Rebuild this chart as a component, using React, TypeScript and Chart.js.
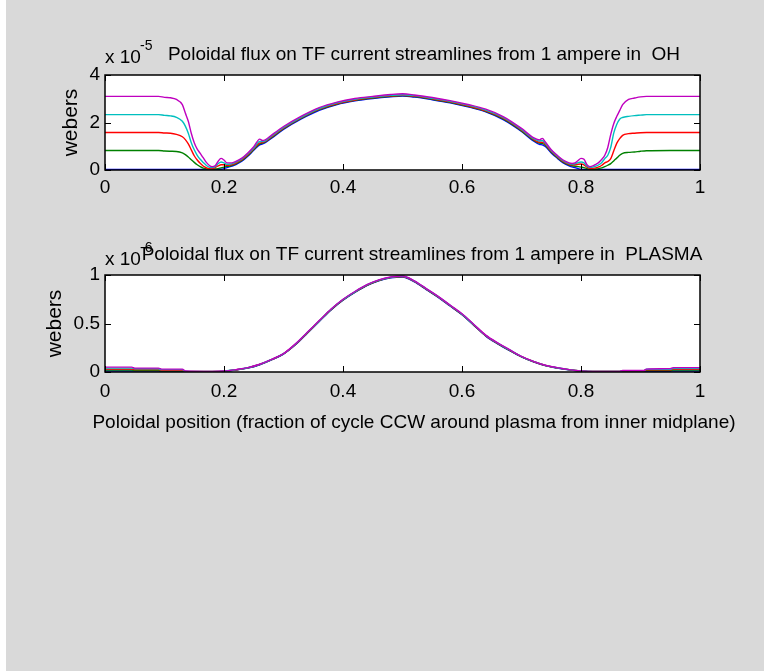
import React, { useEffect, useRef } from "react";
import { Chart, registerables } from "chart.js";

Chart.register(...registerables);

const FONT = '"Liberation Sans", Arial, Helvetica, sans-serif';

// ---- Upper panel: flux from 1 A in OH (units of 1e-5 Wb) ----
const ohX = [
  0, 0.05, 0.09, 0.1, 0.11, 0.12, 0.13, 0.135, 0.14, 0.145, 0.15, 0.155, 0.16, 0.165, 0.17, 0.175,
  0.18, 0.185, 0.19, 0.195, 0.2, 0.205, 0.21, 0.215, 0.22, 0.23, 0.24, 0.25, 0.26, 0.265, 0.27, 0.28,
  0.3, 0.33, 0.36, 0.39, 0.42, 0.45, 0.48, 0.5, 0.52, 0.55, 0.58, 0.61, 0.64, 0.67, 0.7, 0.72, 0.73,
  0.735, 0.74, 0.75, 0.76, 0.77, 0.78, 0.785, 0.79, 0.795, 0.8, 0.805, 0.81, 0.815, 0.82, 0.825, 0.83,
  0.835, 0.84, 0.845, 0.85, 0.855, 0.86, 0.865, 0.87, 0.88, 0.89, 0.9, 0.91, 0.95, 1.0,
];
const ohBlue = [
  0.02, 0.02, 0.02, 0.02, 0.02, 0.02, 0.02, 0.02, 0.02, 0.02, 0.02, 0.02, 0.02, 0.02, 0.02, 0.02,
  0.02, 0.02, 0.02, 0.03, 0.06, 0.1, 0.14, 0.18, 0.23, 0.37, 0.58, 0.83, 1.06, 1.1, 1.16, 1.34,
  1.71, 2.15, 2.51, 2.76, 2.91, 3.01, 3.08, 3.11, 3.07, 2.96, 2.83, 2.66, 2.45, 2.11, 1.62, 1.22, 1.08,
  1.06, 0.99, 0.72, 0.5, 0.3, 0.17, 0.13, 0.1, 0.06, 0.03, 0.02, 0.02, 0.02, 0.02, 0.02, 0.02,
  0.02, 0.02, 0.02, 0.02, 0.02, 0.02, 0.02, 0.02, 0.02, 0.02, 0.02, 0.02, 0.02, 0.02,
];
const ohGreen = [
  0.82, 0.82, 0.82, 0.8, 0.79, 0.78, 0.72, 0.65, 0.55, 0.43, 0.32, 0.22, 0.14, 0.08, 0.05, 0.03,
  0.03, 0.04, 0.06, 0.09, 0.12, 0.15, 0.17, 0.21, 0.26, 0.4, 0.61, 0.86, 1.1, 1.13, 1.19, 1.37,
  1.74, 2.18, 2.54, 2.78, 2.93, 3.03, 3.1, 3.13, 3.09, 2.98, 2.85, 2.68, 2.47, 2.14, 1.65, 1.26, 1.13,
  1.12, 1.04, 0.76, 0.53, 0.33, 0.21, 0.18, 0.16, 0.14, 0.12, 0.1, 0.06, 0.03, 0.03, 0.04, 0.06,
  0.09, 0.14, 0.2, 0.27, 0.38, 0.5, 0.62, 0.7, 0.74, 0.76, 0.79, 0.81, 0.82, 0.82,
];
const ohRed = [
  1.58, 1.58, 1.58, 1.56, 1.55, 1.5, 1.4, 1.28, 1.1, 0.85, 0.6, 0.42, 0.28, 0.17, 0.1, 0.06,
  0.06, 0.1, 0.17, 0.22, 0.22, 0.2, 0.21, 0.24, 0.29, 0.43, 0.64, 0.89, 1.14, 1.16, 1.21, 1.4,
  1.76, 2.2, 2.56, 2.8, 2.95, 3.05, 3.12, 3.15, 3.11, 3.0, 2.87, 2.7, 2.49, 2.17, 1.68, 1.29, 1.17,
  1.17, 1.08, 0.79, 0.56, 0.36, 0.24, 0.22, 0.22, 0.24, 0.25, 0.22, 0.12, 0.07, 0.07, 0.09, 0.13,
  0.2, 0.3, 0.36, 0.48, 0.8, 1.12, 1.32, 1.46, 1.53, 1.55, 1.57, 1.58, 1.58, 1.58,
];
const ohCyan = [
  2.33, 2.33, 2.33, 2.3, 2.28, 2.22, 2.05, 1.85, 1.55, 1.15, 0.85, 0.62, 0.45, 0.32, 0.2, 0.12,
  0.1, 0.14, 0.26, 0.34, 0.3, 0.24, 0.25, 0.28, 0.33, 0.47, 0.68, 0.93, 1.2, 1.2, 1.24, 1.43,
  1.79, 2.23, 2.59, 2.83, 2.98, 3.07, 3.14, 3.17, 3.13, 3.02, 2.89, 2.73, 2.52, 2.2, 1.71, 1.32, 1.22,
  1.24, 1.13, 0.82, 0.59, 0.39, 0.27, 0.25, 0.26, 0.31, 0.34, 0.3, 0.17, 0.11, 0.12, 0.16, 0.22,
  0.32, 0.48, 0.62, 0.95, 1.55, 1.92, 2.14, 2.21, 2.26, 2.29, 2.31, 2.33, 2.33, 2.33,
];
const ohMagenta = [
  3.1, 3.1, 3.1, 3.06, 3.04, 2.97, 2.75, 2.4, 2.05, 1.55, 1.15, 0.88, 0.7, 0.52, 0.33, 0.2,
  0.14, 0.18, 0.36, 0.49, 0.42, 0.3, 0.3, 0.31, 0.36, 0.5, 0.72, 0.98, 1.3, 1.24, 1.28, 1.47,
  1.83, 2.27, 2.63, 2.86, 3.01, 3.1, 3.18, 3.21, 3.16, 3.05, 2.92, 2.76, 2.56, 2.24, 1.75, 1.36, 1.27,
  1.33, 1.18, 0.85, 0.62, 0.42, 0.3, 0.28, 0.3, 0.4, 0.49, 0.45, 0.22, 0.14, 0.17, 0.24, 0.32,
  0.45, 0.62, 0.95, 1.5, 1.95, 2.25, 2.5, 2.75, 2.97, 3.03, 3.08, 3.1, 3.1, 3.1,
];

// ---- Lower panel: flux from 1 A in PLASMA (units of 1e-6 Wb) ----
const plX = [
  0, 0.045, 0.05, 0.09, 0.095, 0.13, 0.135, 0.18, 0.2, 0.22, 0.24, 0.26, 0.28, 0.3, 0.32, 0.34,
  0.36, 0.38, 0.4, 0.42, 0.44, 0.46, 0.48, 0.5, 0.52, 0.54, 0.56, 0.58, 0.6, 0.62, 0.64, 0.66, 0.68,
  0.7, 0.72, 0.74, 0.76, 0.78, 0.8, 0.82, 0.865, 0.87, 0.905, 0.91, 0.95, 0.955, 1.0,
];
const plBlue = [
  0.01, 0.01, 0.01, 0.01, 0.005, 0.005, 0.003, 0.003, 0.006, 0.02, 0.04, 0.075, 0.125, 0.185, 0.28, 0.4,
  0.52, 0.64, 0.74, 0.82, 0.89, 0.94, 0.97, 0.98, 0.93, 0.85, 0.77, 0.68, 0.59, 0.48, 0.37, 0.29, 0.22,
  0.155, 0.105, 0.065, 0.04, 0.022, 0.01, 0.004, 0.004, 0.006, 0.006, 0.008, 0.008, 0.01, 0.01,
];
const plGreen = [
  0.02, 0.02, 0.015, 0.015, 0.01, 0.01, 0.004, 0.004, 0.007, 0.022, 0.042, 0.077, 0.127, 0.187, 0.283, 0.403,
  0.523, 0.643, 0.743, 0.823, 0.893, 0.943, 0.973, 0.983, 0.933, 0.853, 0.773, 0.683, 0.593, 0.483, 0.373, 0.293, 0.223,
  0.157, 0.107, 0.067, 0.042, 0.023, 0.011, 0.005, 0.005, 0.01, 0.01, 0.015, 0.015, 0.02, 0.02,
];
const plRed = [
  0.03, 0.03, 0.025, 0.025, 0.018, 0.018, 0.006, 0.005, 0.008, 0.023, 0.043, 0.078, 0.128, 0.188, 0.285, 0.405,
  0.525, 0.645, 0.745, 0.825, 0.895, 0.945, 0.975, 0.985, 0.935, 0.855, 0.775, 0.685, 0.595, 0.485, 0.375, 0.295, 0.225,
  0.158, 0.108, 0.068, 0.043, 0.024, 0.011, 0.005, 0.005, 0.012, 0.012, 0.022, 0.022, 0.03, 0.03,
];
const plCyan = [
  0.04, 0.04, 0.033, 0.033, 0.024, 0.024, 0.008, 0.005, 0.009, 0.024, 0.044, 0.079, 0.129, 0.189, 0.287, 0.407,
  0.527, 0.647, 0.747, 0.827, 0.897, 0.947, 0.977, 0.987, 0.937, 0.857, 0.777, 0.687, 0.597, 0.487, 0.377, 0.297, 0.227,
  0.159, 0.109, 0.069, 0.044, 0.025, 0.012, 0.006, 0.006, 0.014, 0.014, 0.028, 0.028, 0.038, 0.038,
];
const plMagenta = [
  0.05, 0.05, 0.04, 0.04, 0.03, 0.03, 0.01, 0.005, 0.01, 0.025, 0.045, 0.08, 0.13, 0.19, 0.29, 0.41,
  0.53, 0.65, 0.75, 0.83, 0.9, 0.95, 0.98, 0.99, 0.94, 0.86, 0.78, 0.69, 0.6, 0.49, 0.38, 0.3, 0.23,
  0.16, 0.11, 0.07, 0.045, 0.025, 0.012, 0.006, 0.006, 0.015, 0.015, 0.03, 0.035, 0.045, 0.045,
];

const xTicks = ["0", "0.2", "0.4", "0.6", "0.8", "1"];
const seriesColors = ["#0000ff", "#008000", "#ff0000", "#00bfbf", "#bf00bf"];

const ohTitle = "Poloidal flux on TF current streamlines from 1 ampere in  OH";
const plTitle = "Poloidal flux on TF current streamlines from 1 ampere in  PLASMA";
const xLabel = "Poloidal position (fraction of cycle CCW around plasma from inner midplane)";
const yLabel = "webers";

type Decor = {
  title: string;
  titleX: number;
  titleY: number;
  exponent: string;
  expY: number;
  supY: number;
  yLabelX: number;
  xLabel?: string;
  xLabelX?: number;
  xLabelY?: number;
};

// Box around the axes, inward ticks on all four sides and the panel texts.
const matlabAxes = {
  id: "matlabAxes",
  afterDraw(chart: any, _args: any, opts: Decor) {
    const ctx = chart.ctx as CanvasRenderingContext2D;
    const { left, right, top, bottom } = chart.chartArea;
    const xs = chart.scales.x;
    const ys = chart.scales.y;
    const tl = 6;
    ctx.save();
    ctx.strokeStyle = "#000";
    ctx.lineWidth = 1.5;
    ctx.strokeRect(left, top, right - left, bottom - top);
    ctx.lineWidth = 1;
    ctx.beginPath();
    xs.ticks.forEach((t: any) => {
      const px = Math.round(xs.getPixelForValue(t.value)) + 0.5;
      ctx.moveTo(px, bottom);
      ctx.lineTo(px, bottom - tl);
      ctx.moveTo(px, top);
      ctx.lineTo(px, top + tl);
    });
    ys.ticks.forEach((t: any) => {
      const py = Math.round(ys.getPixelForValue(t.value)) + 0.5;
      ctx.moveTo(left, py);
      ctx.lineTo(left + tl, py);
      ctx.moveTo(right, py);
      ctx.lineTo(right - tl, py);
    });
    ctx.stroke();

    ctx.fillStyle = "#000";
    ctx.textBaseline = "alphabetic";
    // title
    ctx.font = `19px ${FONT}`;
    ctx.textAlign = "center";
    ctx.fillText(opts.title, opts.titleX, opts.titleY);
    // axis multiplier
    ctx.textAlign = "left";
    ctx.fillText("x 10", left, opts.expY);
    ctx.font = `14px ${FONT}`;
    ctx.fillText(opts.exponent, left + 35, opts.supY);
    // y label
    ctx.font = `21px ${FONT}`;
    ctx.save();
    ctx.translate(opts.yLabelX, (top + bottom) / 2);
    ctx.rotate(-Math.PI / 2);
    ctx.textAlign = "center";
    ctx.textBaseline = "middle";
    ctx.fillText(yLabel, 0, 0);
    ctx.restore();
    // x label
    if (opts.xLabel) {
      ctx.font = `19px ${FONT}`;
      ctx.textAlign = "center";
      ctx.fillText(opts.xLabel, opts.xLabelX as number, opts.xLabelY as number);
    }
    ctx.restore();
  },
};

type PanelProps = {
  xs: number[];
  series: number[][];
  yMax: number;
  yStep: number;
  yTickText: (v: number) => string;
  height: number;
  padTop: number;
  xAxisHeight: number;
  xTickPad: number;
  decor: Decor;
  top: number;
};

function Panel(p: PanelProps) {
  const ref = useRef<HTMLCanvasElement | null>(null);
  useEffect(() => {
    if (!ref.current) return;
    const n = p.series.length;
    const chart = new Chart(ref.current, {
      type: "line",
      data: {
        datasets: p.series.map((ys, i) => ({
          data: p.xs.map((x, k) => ({ x, y: ys[k] })),
          borderColor: seriesColors[i],
          borderWidth: 1.4,
          pointRadius: 0,
          fill: false,
          cubicInterpolationMode: "monotone",
          // later series are drawn over earlier ones
          order: n - 1 - i,
        })),
      },
      options: {
        animation: false,
        responsive: false,
        maintainAspectRatio: false,
        devicePixelRatio: 1,
        layout: { padding: { top: p.padTop, left: 0, right: 64, bottom: 0 } },
        plugins: {
          legend: { display: false },
          tooltip: { enabled: false },
          matlabAxes: p.decor,
        } as any,
        scales: {
          x: {
            type: "linear",
            min: 0,
            max: 1,
            grid: { display: false, drawTicks: false },
            border: { display: false },
            ticks: {
              stepSize: 0.2,
              color: "#000",
              padding: p.xTickPad,
              maxRotation: 0,
              font: { family: FONT, size: 19 },
              callback: (v: any) => xTicks[Math.round(Number(v) * 5)] ?? "",
            },
            afterFit: (s: any) => {
              s.height = p.xAxisHeight;
            },
          },
          y: {
            type: "linear",
            min: 0,
            max: p.yMax,
            grid: { display: false, drawTicks: false },
            border: { display: false },
            ticks: {
              stepSize: p.yStep,
              color: "#000",
              padding: 5,
              font: { family: FONT, size: 19 },
              callback: (v: any) => p.yTickText(Number(v)),
            },
            afterFit: (s: any) => {
              s.width = 105;
            },
          },
        },
      },
      plugins: [
        {
          id: "plotBg",
          beforeDraw(c: any) {
            const { left, top, width, height } = c.chartArea;
            c.ctx.save();
            c.ctx.fillStyle = "#ffffff";
            c.ctx.fillRect(left, top, width, height);
            c.ctx.restore();
          },
        },
        matlabAxes,
      ],
    } as any);
    return () => chart.destroy();
  }, []);
  return (
    <canvas
      ref={ref}
      width={764}
      height={p.height}
      style={{ position: "absolute", left: 0, top: p.top, width: 764, height: p.height }}
    />
  );
}

export default function App() {
  return (
    <div
      style={{
        position: "fixed",
        left: 0,
        top: 0,
        width: 764,
        height: 671,
        background: "#d9d9d9",
        overflow: "hidden",
      }}
    >
      <div style={{ position: "absolute", left: 0, top: 0, width: 6, height: 671, background: "#ffffff" }} />
      <Panel
        top={0}
        height={215}
        padTop={75}
        xAxisHeight={45}
        xTickPad={6}
        xs={ohX}
        series={[ohBlue, ohGreen, ohRed, ohCyan, ohMagenta]}
        yMax={4}
        yStep={2}
        yTickText={(v) => String(Math.round(v))}
        decor={{
          title: ohTitle,
          titleX: 424,
          titleY: 60,
          exponent: "-5",
          expY: 63,
          supY: 50,
          yLabelX: 71,
        }}
      />
      <Panel
        top={215}
        height={240}
        padTop={60}
        xAxisHeight={83}
        xTickPad={8}
        xs={plX}
        series={[plBlue, plGreen, plRed, plCyan, plMagenta]}
        yMax={1}
        yStep={0.5}
        yTickText={(v) => (v === 0 ? "0" : v === 1 ? "1" : "0.5")}
        decor={{
          title: plTitle,
          titleX: 422,
          titleY: 45,
          exponent: "-6",
          expY: 50,
          supY: 37,
          yLabelX: 55,
          xLabel: xLabel,
          xLabelX: 414,
          xLabelY: 213,
        }}
      />
    </div>
  );
}
